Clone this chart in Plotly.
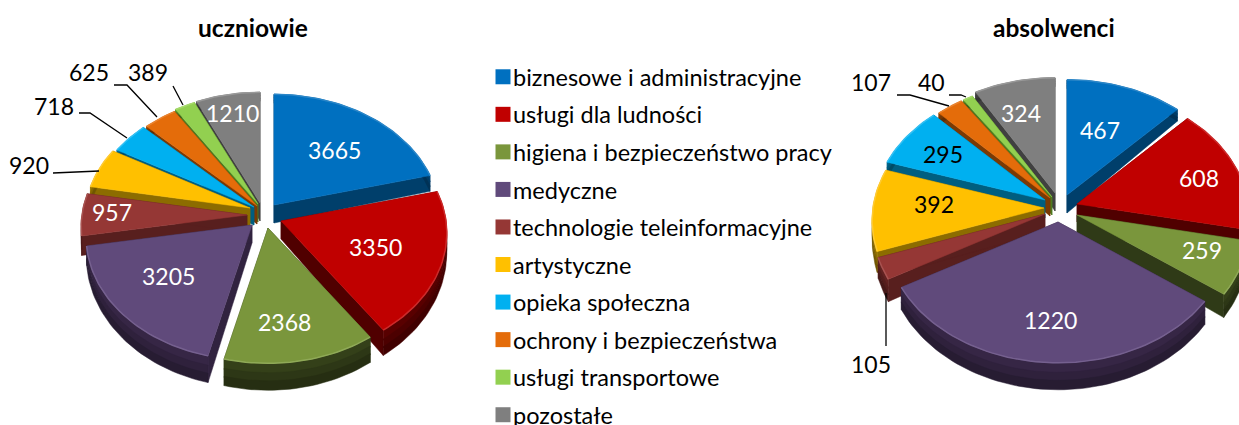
import math
import plotly.graph_objects as go

categories = ["biznesowe i administracyjne", "usługi dla ludności", "higiena i bezpieczeństwo pracy",
              "medyczne", "technologie teleinformacyjne", "artystyczne", "opieka społeczna",
              "ochrony i bezpieczeństwa", "usługi transportowe", "pozostałe"]
uczniowie = [3665, 3350, 2368, 3205, 957, 920, 718, 625, 389, 1210]
absolwenci = [467, 608, 259, 1220, 105, 392, 295, 107, 40, 324]

top_colors = ["#0070C0", "#C00000", "#7A963C", "#604A7B", "#953735", "#FFC000", "#00B0F0", "#E46C0A", "#92D050", "#7F7F7F"]
side_colors = ["#003F6B", "#500000", "#2F3A17", "#31233F", "#581F1E", "#8C6C00", "#005E80", "#7A3A05", "#4F7A20", "#404040"]
rim_colors = ["#2A86C8", "#CC2A2A", "#8FA957", "#75608F", "#A85250", "#FFCB33", "#33C0F3", "#EA8430", "#A6DA6C", "#999999"]

# apex of each exploded slice on the canvas, radii, label placement
left_apex = [(274,205),(281,221),(268,228),(252,225),(247,215),(250,208),(254,207),(257,206),(258,204),(260,203)]
right_apex = [(1067,195),(1077,204),(1077,215),(1058,222),(1045,214),(1044,208),(1045,200),(1050,198),(1052,197),(1055,193)]
left_label_pos = [(334,150),(375,247),(284,322),(168,276),(112,212),(29,165),(54,106),(89,72),(148,72),(232,113)]
right_label_pos = [(1100,130),(1199,178),(1202,250),(1050,320),(871,364),(934,204),(943,154),(871,82),(931,82),(1021,113)]
left_label_col = ["white"]*5 + ["black"]*4 + ["white"]
right_label_col = ["white","white","white","white","black","black","black","black","black","white"]
left_leaders = [[(53,173),(99,171)], [(79,113),(90,113),(127,138)], [(114,85),(127,85),(157,117)], [(173,86),(183,105)]]
right_leaders = [[(897,95),(910,95),(949,106)], [(949,95),(961,95),(966,97)], [(886,346),(886,293)]]

K = 0.1
CANVAS_H = 445  # slightly taller than the window so the legend keeps its full height

def rim(apex, a, rx, ry):
    s, c = math.sin(a), math.cos(a)
    d = -c
    f = 1 + K * d
    return apex[0] + rx * s * f, apex[1] + ry * d * f, d

def height(d):
    return 18 * (1 + 0.5 * d)

def shade(hex_color, t):
    r, g, b = (int(hex_color[j:j + 2], 16) for j in (1, 3, 5))
    return "#%02X%02X%02X" % (min(255, round(r * t)), min(255, round(g * t)), min(255, round(b * t)))

fig = go.Figure()

def poly(xs, ys, color):
    fig.add_trace(go.Scatter(x=xs, y=ys, mode="lines", fill="toself", fillcolor=color,
                             line=dict(color=color, width=0.5), hoverinfo="skip", showlegend=False))

def draw_pie(values, apexes, rx, ry):
    total = sum(values)
    spans, cum = [], 0
    for v in values:
        spans.append((cum / total * 2 * math.pi, (cum + v) / total * 2 * math.pi))
        cum += v
    order = sorted(range(len(values)), key=lambda i: -math.cos((spans[i][0] + spans[i][1]) / 2) * 1)
    for i in order:
        a0, a1 = spans[i]
        ap = apexes[i]
        n = max(4, int((a1 - a0) / 0.03))
        arc = [rim(ap, a0 + (a1 - a0) * j / n, rx, ry) for j in range(n + 1)]
        h0 = height(0)
        for p in (arc[0], arc[-1]):
            poly([ap[0], p[0], p[0], ap[0], ap[0]],
                 [ap[1], p[1], p[1] + height(p[2]), ap[1] + h0, ap[1]], side_colors[i])
        for t0, t1, tone in ((0, 0.4, 1.1), (0.35, 0.7, 0.95), (0.65, 1, 0.8)):
            xs = [p[0] for p in arc] + [p[0] for p in reversed(arc)] + [arc[0][0]]
            ys = ([p[1] + t0 * height(p[2]) for p in arc]
                  + [p[1] + t1 * height(p[2]) for p in reversed(arc)] + [arc[0][1] + t0 * height(arc[0][2])])
            poly(xs, ys, shade(side_colors[i], tone))
        poly([ap[0]] + [p[0] for p in arc] + [ap[0]], [ap[1]] + [p[1] for p in arc] + [ap[1]], top_colors[i])
        fig.add_trace(go.Scatter(x=[p[0] for p in arc], y=[p[1] for p in arc], mode="lines",
                                 line=dict(color=rim_colors[i], width=1.5), hoverinfo="skip", showlegend=False))

draw_pie(uczniowie, left_apex, 165, 123)
draw_pie(absolwenci, right_apex, 171, 128)

for seg in left_leaders + right_leaders:
    fig.add_trace(go.Scatter(x=[p[0] for p in seg], y=[p[1] for p in seg], mode="lines",
                             line=dict(color="black", width=1.3), hoverinfo="skip", showlegend=False))

FONT = "Lato"
for vals, pos, cols in ((uczniowie, left_label_pos, left_label_col), (absolwenci, right_label_pos, right_label_col)):
    for v, p, col in zip(vals, pos, cols):
        fig.add_annotation(x=p[0], y=p[1], text=str(v), showarrow=False,
                           font=dict(family=FONT, size=23, color=col))

fig.add_annotation(x=253, y=27, text="<b>uczniowie</b>", showarrow=False, font=dict(family=FONT, size=24.5, color="black"))
fig.add_annotation(x=1054, y=27, text="<b>absolwenci</b>", showarrow=False, font=dict(family=FONT, size=24.5, color="black"))

for i, name in enumerate(categories):
    fig.add_trace(go.Scatter(x=[None], y=[None], mode="markers", name=name, legendgroup=name,
                             marker=dict(symbol="square", size=15, color=top_colors[i]), hoverinfo="skip"))

fig.update_layout(
    width=1239, height=CANVAS_H, margin=dict(l=0, r=0, t=0, b=0),
    paper_bgcolor="white", plot_bgcolor="white",
    xaxis=dict(range=[0, 1239], visible=False, fixedrange=True),
    yaxis=dict(range=[CANVAS_H, 0], visible=False, fixedrange=True),
    showlegend=True,
    legend=dict(x=473 / 1239, xanchor="left", y=1 - 55 / CANVAS_H, yanchor="top", bgcolor="rgba(0,0,0,0)",
                font=dict(family=FONT, size=23.5, color="black"), tracegroupgap=4,
                itemclick=False, itemdoubleclick=False),
)
POST = """
document.body.style.margin='0';
document.body.style.overflow='hidden';
function nudge(){document.querySelectorAll('.legend .legendpoints').forEach(function(e){e.setAttribute('transform','translate(10,0)');});}
nudge(); setTimeout(nudge,50); setTimeout(nudge,300);
"""
fig.write_html("out.html", post_script=POST, config=dict(displayModeBar=False))
